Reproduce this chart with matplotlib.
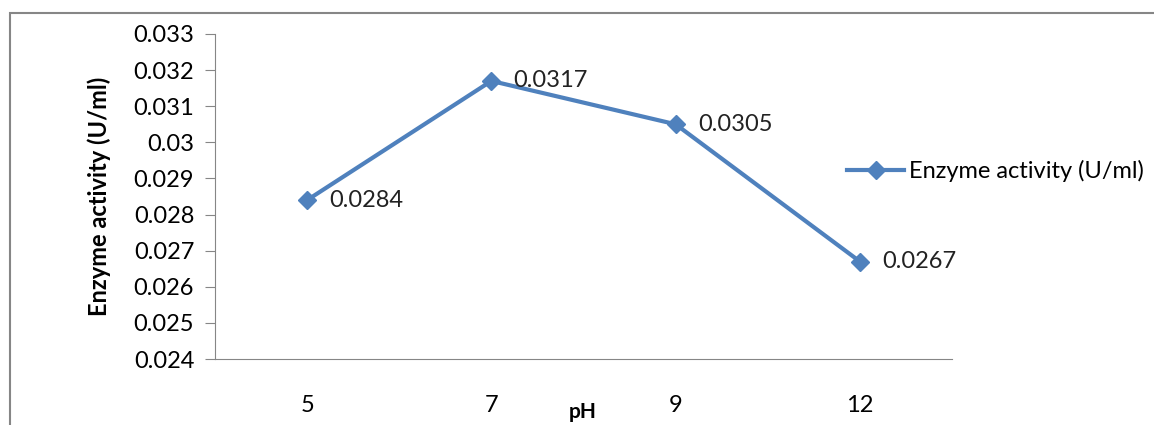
import matplotlib.pyplot as plt
from matplotlib.patches import Rectangle

ph = ["5", "7", "9", "12"]
activity = [0.0284, 0.0317, 0.0305, 0.0267]
labels = ["0.0284", "0.0317", "0.0305", "0.0267"]
yticks = [0.024, 0.025, 0.026, 0.027, 0.028, 0.029, 0.03, 0.031, 0.032, 0.033]
ytick_labels = ["0.024", "0.025", "0.026", "0.027", "0.028", "0.029", "0.03", "0.031", "0.032", "0.033"]

plt.rcParams["font.family"] = ["Lato", "DejaVu Sans"]
W, H = 1154, 425
fig = plt.figure(figsize=(W / 100, H / 100), dpi=100)

# outer chart border (right and bottom run off the picture)
fig.patches.append(Rectangle((10 / W, -0.1), 1.2, 1 - 13 / H + 0.1,
                             transform=fig.transFigure, fill=False,
                             edgecolor="#868686", linewidth=1.5))

ax = fig.add_axes([215 / W, 1 - 359 / H, (952 - 215) / W, (359 - 34) / H])
xs = list(range(len(ph)))
ax.plot(xs, activity, color="#4F81BD", linewidth=3, marker="D", markersize=9,
        label="Enzyme activity (U/ml)")
for x, y, t in zip(xs, activity, labels):
    ax.annotate(t, (x, y), xytext=(16, 0), textcoords="offset points",
                va="center", ha="left", fontsize=17, color="#222222")

ax.set_xlim(-0.5, len(ph) - 0.5)
ax.set_ylim(0.024, 0.033)
ax.set_xticks(xs)
ax.set_xticklabels(ph)
ax.set_yticks(yticks)
ax.set_yticklabels(ytick_labels)
ax.tick_params(axis="x", length=0, pad=26, labelsize=17)
ax.tick_params(axis="y", length=7, color="#868686", labelsize=17, pad=8)
for s in ["top", "right"]:
    ax.spines[s].set_visible(False)
for s in ["left", "bottom"]:
    ax.spines[s].set_color("#868686")
ax.set_ylabel("Enzyme activity (U/ml)", fontsize=17, fontweight="bold", labelpad=16)
fig.text(583 / W, 1 - 412 / H, "pH", fontsize=15, fontweight="bold",
         ha="center", va="center")

fig.legend(loc="center left", bbox_to_anchor=(826 / W, 1 - 171 / H), frameon=False,
           fontsize=17, handlelength=2.4, handletextpad=0.2)

fig.savefig("out.png", dpi=100)
